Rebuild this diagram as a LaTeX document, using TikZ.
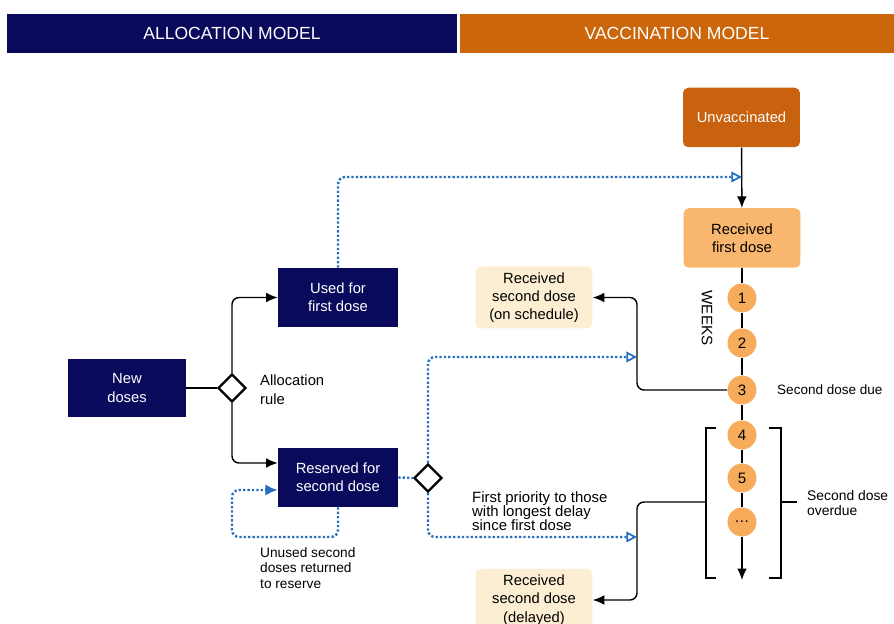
\documentclass[tikz,border=0pt]{standalone}
\usepackage{fontspec}
\setmainfont{Liberation Sans}
\usetikzlibrary{arrows.meta,shapes.geometric}
\definecolor{navy}{RGB}{10,10,92}
\definecolor{burnt}{RGB}{204,102,10}
\definecolor{darkorange}{RGB}{200,98,14}
\definecolor{lightorange}{RGB}{249,182,110}
\definecolor{dotorange}{RGB}{247,172,92}
\definecolor{beige}{RGB}{252,238,210}
\definecolor{dotblue}{RGB}{40,110,190}
\tikzset{
    boxtext/.style={align=center,font=\fontsize{8.4}{10.4}\selectfont},
    navybox/.style={boxtext,fill=navy,text=white,minimum width=2.4cm,minimum height=1.18cm},
    stagebox/.style={boxtext,rounded corners=3pt,minimum width=2.34cm,minimum height=1.19cm},
    week/.style={circle,fill=dotorange,minimum size=0.58cm,inner sep=0pt,font=\fontsize{8.6}{10}\selectfont},
    choice/.style={diamond,draw,line width=1.3pt,fill=white,minimum size=0.56cm,inner sep=0pt},
    note/.style={align=left,anchor=west,font=\fontsize{8}{8.6}\selectfont},
    flow/.style={line width=0.8pt,rounded corners=4pt},
    bluedot/.style={dotblue,line width=1.4pt,dash pattern=on 1.3pt off 1.2pt,rounded corners=4pt},
    openhead/.style={-{Triangle[open,length=6pt,width=6pt,line width=1pt]}},
}
\begin{document}
\begin{tikzpicture}[x=0.02cm,y=-0.02cm,>={Latex[length=6.5pt,width=5.5pt]}]
    \useasboundingbox (0,0) rectangle (894,624);
    \node[fill=navy,text=white,minimum width=9cm,minimum height=0.78cm,font=\fontsize{10}{11}\selectfont] at (232,33.5)(allochead){ALLOCATION MODEL};
    \node[fill=burnt,text=white,minimum width=8.68cm,minimum height=0.78cm,font=\fontsize{10}{11}\selectfont] at (677,33.5)(vacchead){VACCINATION MODEL};

    \node[navybox,minimum width=2.36cm] at (127,388)(newdoses){New\\doses};
    \node[navybox] at (338,297.5)(usedfirst){Used for\\first dose};
    \node[navybox] at (338,477.5)(reserved){Reserved for\\second dose};
    \node[choice] at (232,388)(allocrule){};
    \node[choice] at (428,478)(priority){};
    \node[note,font=\fontsize{8.4}{10.6}\selectfont] at (254,390)(allocnote){Allocation\\rule};
    \node[note,font=\fontsize{7.8}{8.6}\selectfont] at (254,568)(unusednote){Unused second\\doses returned\\to reserve};
    \node[note,font=\fontsize{8.5}{8}\selectfont] at (466,511)(prioritynote){First priority to those\\with longest delay\\since first dose};

    \node[stagebox,fill=darkorange,text=white] at (741.5,117.5)(unvacc){Unvaccinated};
    \node[stagebox,fill=lightorange] at (742,238)(firstdose){Received\\first dose};
    \node[stagebox,fill=beige] at (534,297.5)(ontime){Received\\second dose\\(on schedule)};
    \node[stagebox,fill=beige] at (534,600)(delayed){Received\\second dose\\(delayed)};

    \foreach \y/\t [count=\i] in {298/1,343/2,390/3,435/4,478/5,522/\dots}{
        \node[week] at (742,\y)(w\i){\t};
    }
    \node[rotate=-90,font=\fontsize{8.6}{10}\selectfont] at (707,318)(weeks){WEEKS};
    \node[note,font=\fontsize{7.7}{10}\selectfont] at (771,390)(duenote){Second dose due};
    \node[note,font=\fontsize{7.9}{9}\selectfont] at (801,503)(overduenote){Second dose\\overdue};

    \coordinate (firstin) at (742,177);
    \coordinate (ontimein) at (637,357);
    \coordinate (delayin) at (637,537);
    \coordinate (lbracket) at (706,502);
    \coordinate (rbracket) at (781,502);
    \coordinate (weekend) at (742,580);

    \draw[flow,->] (unvacc) -- (firstdose);
    \draw[flow] (firstdose) -- (w1);
    \foreach \a/\b in {1/2,2/3,3/4,4/5,5/6}{
        \draw[flow] (w\a) -- (w\b);
    }
    \draw[flow,->] (w6) -- (weekend);
    \draw[line width=0.8pt] (716,428) -- (706,428) -- (706,578) -- (716,578);
    \draw[line width=0.8pt] (769,428) -- (781,428) -- (781,578) -- (769,578);
    \draw[line width=0.8pt] (rbracket) -- (797,502);
    \draw[flow,->] (w3.west) -- (637,390) |- (ontime.east);
    \draw[flow,->] (lbracket) -- (637,502) |- (delayed.east);

    \draw[flow] (newdoses) -- (allocrule);
    \draw[flow,->] (allocrule.north) |- (usedfirst.west);
    \draw[flow,->] (allocrule.south) |- ([yshift=0.29cm]reserved.west);

    \draw[bluedot,openhead] (usedfirst.north) |- (firstin);
    \draw[bluedot] (reserved.east) -- (priority.west);
    \draw[bluedot,openhead] (priority.north) |- (ontimein);
    \draw[bluedot,openhead] (priority.south) |- (delayin);
    \draw[bluedot,-{Latex[length=7pt,width=6.5pt]}] (reserved.south) |- (232,537) |- ([yshift=-0.25cm]reserved.west);
\end{tikzpicture}
\end{document}
